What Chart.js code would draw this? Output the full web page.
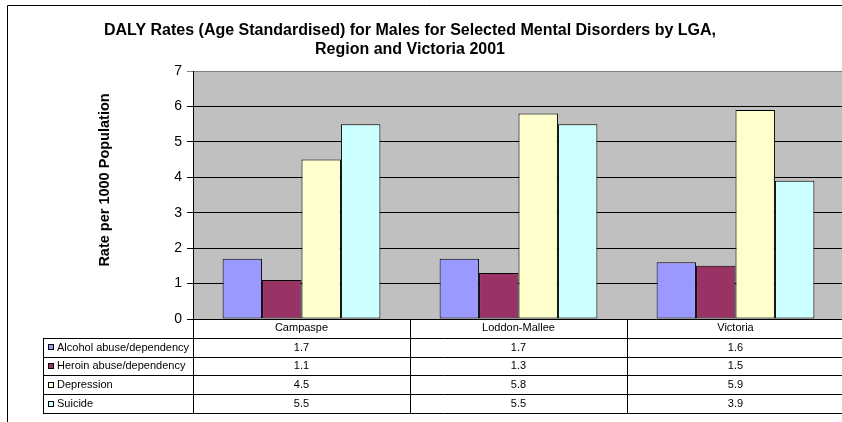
<!DOCTYPE html>
<html>
<head>
<meta charset="utf-8">
<script src="https://cdn.jsdelivr.net/npm/chart.js@4/dist/chart.umd.min.js"></script>
<style>
  html, body { margin: 0; padding: 0; background: #fff; overflow: hidden; width: 842px; height: 422px; }
  canvas { display: block; }
</style>
</head>
<body>
<canvas id="c" width="846" height="422"></canvas>
<script>
// ---- data ----
const categories = ["Campaspe", "Loddon-Mallee", "Victoria"];
const seriesNames = ["Alcohol abuse/dependency", "Heroin abuse/dependency", "Depression", "Suicide"];
const alcohol = [1.7, 1.7, 1.6];
const heroin = [1.1, 1.3, 1.5];
const depression = [4.5, 5.8, 5.9];
const suicide = [5.5, 5.5, 3.9];
const yTicks = [0, 1, 2, 3, 4, 5, 6, 7];
const titleLines = ["DALY Rates (Age Standardised) for Males for Selected Mental Disorders by LGA,", "Region and Victoria 2001"];
const yTitle = "Rate per 1000 Population";

const seriesValues = [alcohol, heroin, depression, suicide];
const colors = ["#9999FF", "#993366", "#FFFFCC", "#CCFFFF"];
const FONT = '"Liberation Sans", Arial, sans-serif';

const bgPlugin = {
  id: 'bg',
  beforeDraw(chart) {
    const ctx = chart.ctx, ca = chart.chartArea;
    ctx.save();
    ctx.fillStyle = '#fff';
    ctx.fillRect(0, 0, chart.width, chart.height);
    ctx.fillStyle = '#C0C0C0';
    ctx.fillRect(ca.left, ca.top, ca.right - ca.left, ca.bottom - ca.top);
    // outer chart border
    ctx.strokeStyle = '#000';
    ctx.lineWidth = 1;
    ctx.beginPath();
    ctx.moveTo(7.5, chart.height);
    ctx.lineTo(7.5, 5.5);
    ctx.lineTo(chart.width, 5.5);
    ctx.stroke();
    ctx.restore();
  },
  afterLayout(chart) {
    const tb = chart.titleBlock;
    if (tb) { tb.left = 0; tb.right = 820; tb.width = 820; }
  }
};

const tablePlugin = {
  id: 'dataTable',
  afterDraw(chart) {
    const ctx = chart.ctx, ca = chart.chartArea, xs = chart.scales.x;
    const n = categories.length;
    const half = (xs.getPixelForValue(1) - xs.getPixelForValue(0)) / 2;
    const bounds = [];
    for (let i = 0; i < n; i++) bounds.push(xs.getPixelForValue(i) - half);
    bounds.push(xs.getPixelForValue(n - 1) + half);
    const tableLeft = 43;
    const headerBottom = ca.bottom + 18.7;
    const rowH = 18.8;
    const tableBottom = headerBottom + rowH * seriesNames.length;
    const px = v => Math.round(v) + 0.5;

    ctx.save();
    ctx.strokeStyle = '#000';
    ctx.lineWidth = 1;
    ctx.beginPath();
    for (let k = 0; k <= seriesNames.length; k++) {
      const y = px(headerBottom + k * rowH);
      ctx.moveTo(tableLeft, y);
      ctx.lineTo(chart.width, y);
    }
    ctx.moveTo(px(tableLeft), px(headerBottom));
    ctx.lineTo(px(tableLeft), px(tableBottom));
    for (const b of bounds) {
      ctx.moveTo(px(b - 0.5), ca.bottom);
      ctx.lineTo(px(b - 0.5), px(tableBottom));
    }
    ctx.stroke();

    ctx.font = '11px ' + FONT;
    ctx.textBaseline = 'middle';
    ctx.fillStyle = '#000';
    seriesNames.forEach((name, k) => {
      const cy = headerBottom + rowH * k + rowH / 2;
      // legend key
      ctx.fillStyle = colors[k];
      ctx.fillRect(48, Math.round(cy) - 3, 6, 6);
      ctx.strokeStyle = '#000';
      ctx.strokeRect(48.5, Math.round(cy) - 2.5, 5, 5);
      ctx.fillStyle = '#000';
      ctx.textAlign = 'left';
      ctx.fillText(name, 57, cy + 0.5);
      ctx.textAlign = 'center';
      seriesValues[k].forEach((v, i) => {
        ctx.fillText(v.toFixed(1), xs.getPixelForValue(i), cy + 0.5);
      });
    });

    // y axis title
    ctx.save();
    ctx.translate(105, 180);
    ctx.rotate(-Math.PI / 2);
    ctx.font = 'bold 14.5px ' + FONT;
    ctx.textAlign = 'center';
    ctx.textBaseline = 'middle';
    ctx.fillText(yTitle, 0, 0);
    ctx.restore();
    ctx.restore();
  }
};

new Chart(document.getElementById('c'), {
  type: 'bar',
  data: {
    labels: categories,
    datasets: seriesNames.map((name, k) => ({
      label: name,
      data: seriesValues[k],
      backgroundColor: colors[k],
      borderColor: '#000',
      borderWidth: 1,
      borderSkipped: false,
      barPercentage: 1,
      categoryPercentage: 0.727
    }))
  },
  options: {
    responsive: false,
    animation: false,
    devicePixelRatio: 1,
    layout: { padding: { left: 0, right: 2, top: 21.5, bottom: 0 } },
    plugins: {
      legend: { display: false },
      tooltip: { enabled: false },
      title: {
        display: true,
        text: titleLines,
        color: '#000',
        font: { family: FONT, size: 16, weight: 'bold', lineHeight: 19 / 16 },
        padding: { top: 0, bottom: 11.5 }
      }
    },
    scales: {
      x: {
        grid: { display: false, drawTicks: false },
        border: { display: true, color: '#000', width: 1 },
        ticks: { color: '#000', font: { family: FONT, size: 11 }, padding: 2, maxRotation: 0 },
        afterFit(scale) { scale.height = 103; }
      },
      y: {
        min: 0,
        max: 7,
        afterBuildTicks(scale) { scale.ticks = yTicks.map(v => ({ value: v })); },
        grid: {
          color: ctx => (ctx.tick && ctx.tick.value === 7) ? '#808080' : '#000',
          lineWidth: 1,
          tickLength: 6,
          drawTicks: true
        },
        border: { display: true, color: '#000', width: 1 },
        ticks: { color: '#000', font: { family: FONT, size: 14 }, padding: 5 },
        afterFit(scale) { scale.width = 193; }
      }
    }
  },
  plugins: [bgPlugin, tablePlugin]
});
</script>
</body>
</html>
